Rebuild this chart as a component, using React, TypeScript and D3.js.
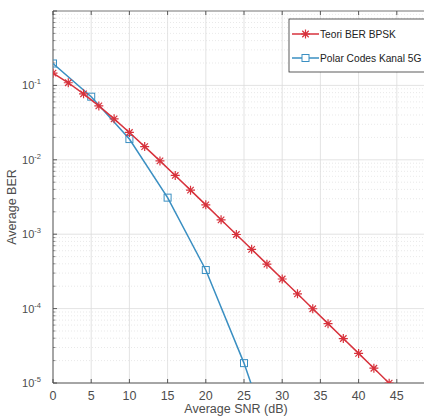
import React from "react";
import * as d3 from "d3";

const snrTheory = [0, 2, 4, 6, 8, 10, 12, 14, 16, 18, 20, 22, 24, 26, 28, 30, 32, 34, 36, 38, 40, 42, 44];
const berTheory = [0.146, 0.1085, 0.0771, 0.053, 0.0355, 0.0233, 0.01505, 0.00966, 0.00616, 0.00391, 0.00248, 0.00156, 0.00099, 0.000626, 0.000396, 0.00025, 0.000158, 0.0000995, 0.0000628, 0.0000396, 0.000025, 0.0000158, 0.00000995];
const snrPolar = [0, 5, 10, 15, 20, 25, 30];
const berPolar = [0.197, 0.0705, 0.019, 0.0031, 0.00033, 0.0000185, 0.0000006];
const xTicks = [0, 5, 10, 15, 20, 25, 30, 35, 40, 45];
const yTickExps = [-5, -4, -3, -2, -1];
const legendLabels = ["Teori BER BPSK", "Polar Codes Kanal 5G"];

const W = 424;
const H = 417;
const left = 53;
const right = 435;
const top = 11;
const bottom = 383;
const RED = "#d7323c";
const BLUE = "#3a8fc2";
const FONT = "'Liberation Sans', Arial, sans-serif";

const x = d3.scaleLinear().domain([0, 50]).range([left, right]);
const y = d3.scaleLog().domain([1e-5, 1]).range([bottom, top]);

function star(cx: number, cy: number, r: number) {
  const d = r * 0.72;
  return `M${cx - r},${cy}L${cx + r},${cy}M${cx},${cy - r}L${cx},${cy + r}M${cx - d},${cy - d}L${cx + d},${cy + d}M${cx - d},${cy + d}L${cx + d},${cy - d}`;
}

export default function App() {
  const line = d3
    .line<[number, number]>()
    .x((d) => x(d[0]))
    .y((d) => y(d[1]));
  const theoryPts: [number, number][] = snrTheory.map((s, i) => [s, berTheory[i]]);
  const polarPts: [number, number][] = snrPolar.map((s, i) => [s, berPolar[i]]);

  const minorY: number[] = [];
  for (let e = -5; e < 0; e++) for (let k = 2; k <= 9; k++) minorY.push(k * Math.pow(10, e));
  const majorY = yTickExps.map((e) => Math.pow(10, e)).concat([1]);

  return (
    <svg
      width={W}
      height={H}
      style={{ position: "absolute", left: 0, top: 0, background: "#fff" }}
      fontFamily={FONT}
    >
      <defs>
        <clipPath id="plot">
          <rect x={left} y={top} width={right - left} height={bottom - top} />
        </clipPath>
      </defs>
      <rect x={0} y={0} width={W} height={H} fill="#fff" />
      {/* minor grid */}
      <g stroke="#dadada" strokeWidth={0.6} strokeDasharray="1,2">
        {minorY.map((v, i) => (
          <line key={"my" + i} x1={left} x2={right} y1={y(v)} y2={y(v)} />
        ))}
      </g>
      {/* major grid */}
      <g stroke="#dcdcdc" strokeWidth={0.8}>
        {xTicks.concat([50]).map((v) => (
          <line key={"gx" + v} x1={x(v)} x2={x(v)} y1={top} y2={bottom} />
        ))}
        {majorY.map((v, i) => (
          <line key={"gy" + i} x1={left} x2={right} y1={y(v)} y2={y(v)} />
        ))}
      </g>
      {/* axes box */}
      <g stroke="#4a4a4a" strokeWidth={0.9} fill="none">
        <line x1={left} x2={right} y1={bottom} y2={bottom} />
        <line x1={left} x2={left} y1={top} y2={bottom} />
        <line x1={left} x2={right} y1={top} y2={top} stroke="#777" />
        {xTicks.map((v) => (
          <g key={"tx" + v}>
            <line x1={x(v)} x2={x(v)} y1={bottom} y2={bottom - 4} />
            <line x1={x(v)} x2={x(v)} y1={top} y2={top + 4} />
          </g>
        ))}
        {majorY.map((v, i) => (
          <line key={"ty" + i} x1={left} x2={left + 4} y1={y(v)} y2={y(v)} />
        ))}
        {minorY.map((v, i) => (
          <line key={"mty" + i} x1={left} x2={left + 2.5} y1={y(v)} y2={y(v)} strokeWidth={0.6} />
        ))}
      </g>
      {/* tick labels */}
      <g fill="#4d4d4d">
        {xTicks.map((v) => (
          <text key={"lx" + v} x={x(v)} y={bottom + 17} textAnchor="middle" fontSize={12.5}>
            {v}
          </text>
        ))}
        {yTickExps.map((e) => (
          <text key={"ly" + e} x={left - 12} y={y(Math.pow(10, e)) + 4} textAnchor="end" fontSize={11}>
            10
            <tspan fontSize={7.5} dy={-5}>
              {String(e)}
            </tspan>
          </text>
        ))}
      </g>
      <text x={236} y={413} textAnchor="middle" fontSize={12.5} fill="#4d4d4d">
        Average SNR (dB)
      </text>
      <text
        transform={`translate(16,${(top + bottom) / 2 + 10}) rotate(-90)`}
        textAnchor="middle"
        fontSize={12.5}
        fill="#4d4d4d"
      >
        Average BER
      </text>
      {/* series */}
      <g clipPath="url(#plot)">
        <path d={line(polarPts) || ""} fill="none" stroke={BLUE} strokeWidth={1.5} />
        {polarPts.map((p, i) => (
          <rect
            key={"pm" + i}
            x={x(p[0]) - 3.5}
            y={y(p[1]) - 3.5}
            width={7}
            height={7}
            fill="none"
            stroke={BLUE}
            strokeWidth={1}
          />
        ))}
        <path d={line(theoryPts) || ""} fill="none" stroke={RED} strokeWidth={1.5} />
        {theoryPts.map((p, i) => (
          <path key={"tm" + i} d={star(x(p[0]), y(p[1]), 4.5)} stroke={RED} strokeWidth={1.2} fill="none" />
        ))}
      </g>
      {/* legend */}
      <g>
        <rect x={289} y={19} width={150} height={53} fill="#fff" stroke="#333" strokeWidth={0.8} />
        <line x1={292} x2={319} y1={34} y2={34} stroke={RED} strokeWidth={1.5} />
        <path d={star(305.5, 34, 4.5)} stroke={RED} strokeWidth={1.2} fill="none" />
        <line x1={292} x2={319} y1={58} y2={58} stroke={BLUE} strokeWidth={1.5} />
        <rect x={302} y={54.5} width={7} height={7} fill="#fff" stroke={BLUE} strokeWidth={1} />
        <text x={320} y={38} fontSize={10.2} fill="#222">
          {legendLabels[0]}
        </text>
        <text x={320} y={62} fontSize={10.2} fill="#222">
          {legendLabels[1]}
        </text>
      </g>
    </svg>
  );
}
